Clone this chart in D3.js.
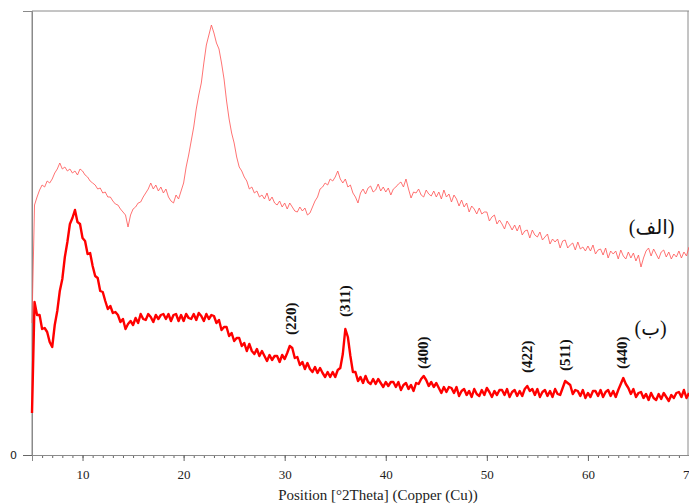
<!DOCTYPE html>
<html>
<head>
<meta charset="utf-8">
<script src="https://cdn.jsdelivr.net/npm/d3@7"></script>
<style>
  html, body { margin: 0; padding: 0; background: #fff; }
  svg { display: block; }
</style>
</head>
<body>
<div id="chart"></div>
<script>
// 2θ sampling: start, step (degrees)
const thetaStart = 5;
const thetaStep = 0.25;

// Sample (الف) — intensity (arb. units), 5.0°..70.0° every 0.25°
const seriesA = [
  132,250,258,265,270,268,274,272,276,282,286,292,286,288,284,286,282,284,280,286,
  284,280,278,274,272,270,266,267,262,263,258,258,254,251,250,246,243,240,228,240,
  246,248,252,253,258,262,266,272,266,270,264,268,262,266,258,254,252,260,256,264,
  272,288,300,314,328,346,360,372,392,410,420,430,422,412,406,392,376,354,336,322,
  312,298,288,284,278,274,266,268,262,264,258,260,256,262,254,258,252,250,254,248,
  252,246,252,248,244,243,248,244,247,240,242,248,254,258,266,268,272,270,276,274,
  278,284,276,272,276,268,270,262,258,252,262,266,261,267,269,263,265,271,264,268,
  263,267,260,266,268,271,273,268,276,266,257,263,262,266,260,258,265,261,259,264,
  258,263,256,265,258,261,253,260,256,249,255,248,252,243,249,246,241,247,241,243,
  243,234,238,240,231,235,231,226,234,230,225,230,224,230,220,224,225,217,225,220,
  218,223,215,218,221,211,216,213,216,207,214,215,207,210,212,205,213,206,208,204,
  209,204,210,201,205,206,200,207,197,204,201,204,196,205,199,196,203,197,202,194,
  200,188,197,204,207,199,206,201,196,203,205,198,203,196,201,198,204,197,203,199,
  208
];

// Sample (ب) — intensity (arb. units), 5.0°..70.0° every 0.25°
const seriesB = [
  42,153,140,140,126,127,123,113,108,130,144,164,176,198,213,231,237,245,233,231,
  217,214,201,202,189,179,177,164,163,154,146,149,142,143,140,133,136,126,131,134,
  130,137,132,141,136,135,141,138,133,140,136,140,141,136,141,134,140,141,134,140,
  134,141,137,136,141,135,142,139,134,141,136,140,139,132,135,125,128,128,119,122,
  114,117,117,109,112,104,111,104,101,106,99,104,99,94,100,95,99,99,93,100,
  96,102,109,107,97,98,90,93,86,92,86,83,88,82,87,82,78,83,78,83,
  78,85,87,101,126,118,99,83,83,74,78,72,79,73,71,76,71,76,72,68,
  73,69,73,73,68,73,65,70,72,66,70,64,72,71,76,79,75,69,73,68,
  72,67,62,68,63,68,67,62,68,59,64,66,60,64,58,66,61,59,65,60,
  67,63,58,64,60,65,65,60,66,58,63,65,59,64,59,66,69,64,66,60,
  66,58,63,65,59,64,58,66,61,60,67,74,72,70,61,65,64,59,65,57,
  62,58,64,64,59,65,58,63,65,59,64,58,65,71,77,71,67,61,66,58,
  62,63,57,61,55,62,57,55,61,56,62,58,54,60,57,62,63,58,65,57,
  62
];

// Miller-index peak labels for (ب)
const hklLabels = ["(220)", "(311)", "(400)", "(422)", "(511)", "(440)"];
const hklTheta  = [30.6, 36.0, 43.7, 54.0, 57.7, 63.4];
const hklLevel  = [120, 138, 86, 82, 84, 86];

// Sample names
const sampleNames  = ["(الف)", "(ب)"];
const sampleTheta  = [66.3, 66.2];
const sampleLevel  = [221, 120];

// Axis ticks
const xMajorTicks = [10, 20, 30, 40, 50, 60, 70];
const xMinorTicks = d3.range(5, 71, 1);
const yTicks = [0];
const xTitle = "Position [°2Theta] (Copper (Cu))";

const W = 689, H = 504;
const svg = d3.select("#chart").append("svg").attr("width", W).attr("height", H);

const x = d3.scaleLinear().domain([5, 70]).range([32, 689]);
const y = d3.scaleLinear().domain([0, 444]).range([455, 11]);

const axisColor = "#8a8a8a";

// Frame (top and right)
svg.append("line").attr("x1", x(5)).attr("x2", x(70)).attr("y1", y(444)).attr("y2", y(444))
  .attr("stroke", axisColor).attr("stroke-width", 1);
svg.append("line").attr("x1", x(70) - 1).attr("x2", x(70) - 1).attr("y1", y(444)).attr("y2", y(0))
  .attr("stroke", axisColor).attr("stroke-width", 1);

// X axis: minor ticks
const gMinor = svg.append("g").attr("transform", `translate(0,${y(0)})`)
  .call(d3.axisBottom(x).tickValues(xMinorTicks).tickSize(3).tickFormat(""));
// X axis: major ticks with labels
const gMajor = svg.append("g").attr("transform", `translate(0,${y(0)})`)
  .call(d3.axisBottom(x).tickValues(xMajorTicks).tickSize(6).tickPadding(9).tickFormat(d3.format("d")));
[gMinor, gMajor].forEach(g => {
  g.select(".domain").attr("stroke", axisColor);
  g.selectAll(".tick line").attr("stroke", "#666");
});
gMajor.selectAll(".tick text")
  .attr("font-family", "'Liberation Serif', 'Times New Roman', serif")
  .attr("font-size", 13).attr("fill", "#222");

// Y axis
const gY = svg.append("g").attr("transform", `translate(${x(5)},0)`)
  .call(d3.axisLeft(y).tickValues(yTicks).tickSize(9).tickPadding(6).tickFormat(d3.format("d")));
gY.select(".domain").attr("stroke", axisColor);
gY.selectAll(".tick line").attr("stroke", "#666");
gY.selectAll(".tick text").attr("font-family", "'DejaVu Sans', sans-serif")
  .attr("font-size", 11).attr("fill", "#222");
svg.append("line").attr("x1", x(5)).attr("x2", x(5)).attr("y1", y(444)).attr("y2", y(0))
  .attr("stroke", axisColor).attr("stroke-width", 1);

// X title
svg.append("text").attr("x", 378).attr("y", 500).attr("text-anchor", "middle")
  .attr("font-family", "'Liberation Serif', 'Times New Roman', serif")
  .attr("font-size", 15).attr("fill", "#222").text(xTitle);

// Curves
const line = d3.line()
  .x((d, i) => x(thetaStart + i * thetaStep))
  .y(d => y(d));

svg.append("path").datum(seriesA)
  .attr("fill", "none").attr("stroke", "#ff5a5a").attr("stroke-opacity", 0.85)
  .attr("stroke-width", 1).attr("stroke-linejoin", "round")
  .attr("d", line);

svg.append("path").datum(seriesB)
  .attr("fill", "none").attr("stroke", "#ff0000")
  .attr("stroke-width", 2.4).attr("stroke-linejoin", "round")
  .attr("d", line);

// hkl labels (rotated)
svg.append("g").selectAll("text").data(hklLabels).join("text")
  .attr("transform", (d, i) => `translate(${x(hklTheta[i]) + 5},${y(hklLevel[i])}) rotate(-90)`)
  .attr("text-anchor", "start")
  .attr("font-family", "'Liberation Serif', 'Times New Roman', serif")
  .attr("font-size", 15).attr("font-weight", "bold").attr("fill", "#111")
  .text(d => d);

// Sample names
svg.append("g").selectAll("text").data(sampleNames).join("text")
  .attr("x", (d, i) => x(sampleTheta[i]))
  .attr("y", (d, i) => y(sampleLevel[i]))
  .attr("text-anchor", "middle")
  .attr("font-family", "'Liberation Serif', 'DejaVu Sans', serif")
  .attr("font-size", 20).attr("fill", "#111")
  .text(d => d);
</script>
</body>
</html>
